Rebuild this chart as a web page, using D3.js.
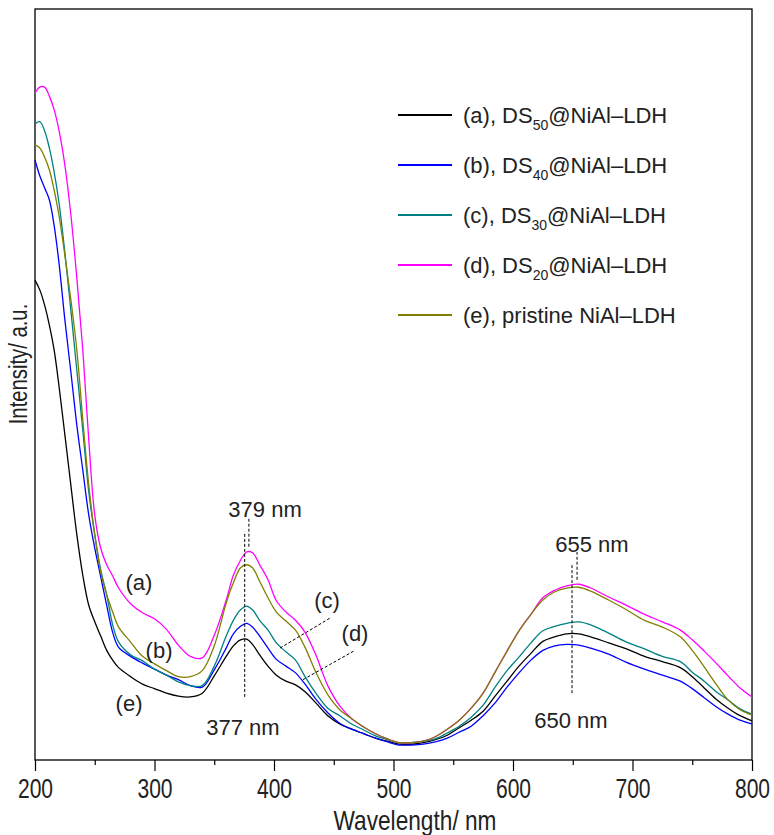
<!DOCTYPE html>
<html>
<head>
<meta charset="utf-8">
<script src="https://cdn.jsdelivr.net/npm/d3@7/dist/d3.min.js"></script>
<style>
  body { margin: 0; background: #fff; }
</style>
</head>
<body>
<svg id="chart" width="774" height="835"></svg>
<script>
// wavelength grid (nm)
var wavelength = [200, 204, 208, 212, 216, 220, 225, 230, 235, 240, 245, 250, 255, 260, 265, 270,
  280, 290, 300, 310, 320, 330, 340, 350, 360,
  366, 372, 377, 382, 388, 395, 402, 410, 418, 426, 435, 445, 455, 465, 475, 485, 495, 505, 515,
  525, 535, 545, 555, 565, 575, 585, 595, 605, 615, 625, 635, 645, 655, 665,
  680, 695, 710, 725, 740, 750, 760, 770, 780, 790, 800];

// intensity (a.u.)
var dsA = [63.9, 62.6, 60.6, 57.9, 54.6, 49.9, 43.3, 36.6, 30.0, 24.6, 20.6, 18.4, 16.5, 14.6, 13.3, 12.3,
  11.1, 10.1, 9.5, 8.9, 8.5, 8.4, 8.9, 11.2, 13.8,
  15.2, 16.0, 16.1, 15.4, 14.0, 12.5, 11.3, 10.5, 10.0, 9.1, 7.6, 5.9, 4.8, 4.1, 3.5, 2.9, 2.5, 2.1, 2.1,
  2.3, 2.7, 3.3, 4.3, 5.3, 6.5, 8.5, 10.5, 12.5, 14.2, 15.8, 16.4, 16.8, 16.8, 16.4,
  15.6, 14.8, 13.8, 13.1, 12.3, 11.1, 9.6, 8.1, 6.9, 5.9, 5.2];
var dsB = [79.9, 77.8, 76.2, 74.6, 71.2, 66.3, 58.6, 51.7, 44.6, 38.6, 32.6, 28.2, 24.4, 20.6, 17.0, 15.0,
  13.8, 12.9, 12.1, 11.3, 10.7, 9.9, 9.7, 12.0, 14.9,
  16.8, 17.8, 18.2, 17.7, 16.5, 14.9, 13.4, 12.5, 11.6, 10.1, 8.1, 6.3, 4.9, 4.1, 3.5, 2.9, 2.4, 2.0, 2.0,
  2.1, 2.4, 2.9, 3.7, 4.5, 5.9, 7.6, 9.7, 11.6, 13.3, 14.6, 15.2, 15.4, 15.3, 14.9,
  14.1, 13.0, 12.1, 11.3, 10.5, 9.5, 8.3, 7.1, 6.1, 5.3, 4.8];
var dsC = [84.7, 85.0, 83.8, 81.5, 78.3, 74.3, 67.6, 59.9, 51.9, 43.9, 35.7, 30.0, 25.3, 22.0, 18.0, 15.7,
  14.0, 13.2, 12.1, 11.3, 10.4, 9.9, 9.9, 12.5, 16.5,
  18.6, 20.0, 20.5, 20.0, 18.6, 17.3, 15.6, 14.4, 13.3, 11.1, 8.9, 6.9, 5.9, 4.8, 4.0, 3.2, 2.7, 2.3, 2.3,
  2.5, 2.8, 3.6, 4.5, 5.7, 7.3, 9.7, 11.9, 13.7, 15.6, 17.2, 17.8, 18.2, 18.4, 18.0,
  16.9, 15.7, 14.8, 13.8, 13.1, 11.7, 10.5, 9.1, 8.0, 6.8, 6.1];
var dsD = [88.8, 89.6, 89.6, 88.4, 86.6, 83.9, 79.2, 72.6, 64.2, 54.6, 42.6, 32.6, 28.2, 26.0, 24.5, 22.9,
  20.8, 19.6, 18.8, 17.4, 15.3, 13.8, 13.6, 16.6, 21.3,
  24.6, 26.6, 27.7, 27.6, 26.0, 24.0, 21.2, 19.7, 18.6, 17.0, 14.0, 9.9, 7.2, 5.5, 4.4, 3.5, 2.8, 2.3, 2.3,
  2.5, 3.1, 4.1, 5.3, 6.9, 8.9, 11.7, 14.5, 17.2, 19.4, 21.6, 22.6, 23.2, 23.4, 22.9,
  21.7, 20.6, 19.4, 18.4, 17.3, 16.0, 14.5, 12.9, 11.2, 9.6, 8.4];
var dsE = [81.9, 81.5, 80.3, 78.6, 75.9, 72.6, 67.2, 61.3, 54.6, 45.3, 36.6, 30.0, 25.0, 22.0, 19.7, 17.7,
  15.7, 13.8, 12.8, 11.9, 11.1, 11.1, 11.9, 15.2, 20.9,
  23.6, 25.6, 26.0, 25.6, 23.8, 21.6, 19.7, 18.5, 17.3, 15.0, 11.7, 8.7, 6.7, 5.5, 4.4, 3.5, 2.8, 2.3, 2.3,
  2.5, 3.1, 4.1, 5.3, 6.9, 8.9, 11.7, 14.5, 17.2, 19.4, 21.3, 22.4, 22.9, 23.0, 22.5,
  21.3, 20.0, 18.6, 17.7, 16.4, 14.6, 12.4, 10.1, 8.0, 6.7, 6.0];

var seriesPrefix = ["(a), DS", "(b), DS", "(c), DS", "(d), DS", "(e), pristine NiAl\u2013LDH"];
var seriesSub = ["50", "40", "30", "20", ""];
var seriesColors = ["#000000", "#0000ff", "#008080", "#ff00ff", "#808000"];
var xTicks = [200, 300, 400, 500, 600, 700, 800];
var xMinorTicks = [250, 350, 450, 550, 650, 750];

// peak markers: [wavelength, from, to]
var peakLines = [[379, 28.4, 32.2], [375.5, 8.4, 30.4], [653.6, 24.0, 27.7], [649.4, 8.9, 26.0]];
var peakLabels = [[392.5, 32.4, "379 nm"], [374, 3.3, "377 nm"], [666, 27.7, "655 nm"], [648.5, 4.3, "650 nm"]];
// curve letters and leader lines
var curveLabels = [[287, 22.6, "(a)"], [303.8, 13.6, "(b)"], [278.7, 6.5, "(e)"], [444.4, 20.2, "(c)"], [467.8, 15.8, "(d)"]];
var leaders = [[405, 14.9, 446.9, 18.9], [424.3, 10.7, 467.8, 14.6]];

var data = [dsA, dsB, dsC, dsD, dsE];

var svg = d3.select("#chart");
var margin = {top: 9, right: 22, bottom: 75, left: 35};
var width = 774 - margin.left - margin.right,
    height = 835 - margin.top - margin.bottom;

var g = svg.append("g").attr("transform", "translate(" + margin.left + "," + margin.top + ")");

var x = d3.scaleLinear().domain([200, 800]).range([0, width]);
var y = d3.scaleLinear().domain([0, 100]).range([height, 0]);

var fontFam = '"Liberation Sans", Arial, sans-serif';
var squeeze = "scale(0.78,1)"; // axis text in the original is condensed

// minor ticks first
g.append("g")
    .attr("transform", "translate(0," + height + ")")
    .call(d3.axisBottom(x).tickValues(xMinorTicks).tickSize(5).tickFormat(""))
    .call(function(a) { a.select(".domain").remove(); })
    .selectAll("line").attr("stroke-width", 1.2);

var xAxis = g.append("g")
    .attr("transform", "translate(0," + height + ")")
    .call(d3.axisBottom(x).tickValues(xTicks).tickSize(11).tickPadding(8).tickFormat(d3.format("d")));
xAxis.select(".domain").remove();
xAxis.selectAll("line").attr("stroke-width", 1.2);
xAxis.selectAll("text")
    .attr("font-size", 27)
    .attr("fill", "#222")
    .attr("transform", squeeze)
    .style("font-family", fontFam);

// frame
g.append("rect")
    .attr("width", width).attr("height", height)
    .attr("fill", "none").attr("stroke", "#000").attr("stroke-width", 1.3);

var line = d3.line()
    .x(function(d, i) { return x(wavelength[i]); })
    .y(function(d) { return y(d); })
    .curve(d3.curveCatmullRom);

g.selectAll(".spec")
    .data(data)
    .enter().append("path")
    .attr("class", "spec")
    .attr("d", line)
    .attr("fill", "none")
    .attr("stroke", function(d, i) { return seriesColors[i]; })
    .attr("stroke-width", 1.3);

// dashed peak markers
g.selectAll(".peak")
    .data(peakLines)
    .enter().append("line")
    .attr("x1", function(d) { return x(d[0]); })
    .attr("x2", function(d) { return x(d[0]); })
    .attr("y1", function(d) { return y(d[1]); })
    .attr("y2", function(d) { return y(d[2]); })
    .attr("stroke", "#000").attr("stroke-width", 1)
    .attr("stroke-dasharray", "3,2");

g.selectAll(".leader")
    .data(leaders)
    .enter().append("line")
    .attr("x1", function(d) { return x(d[0]); })
    .attr("y1", function(d) { return y(d[1]); })
    .attr("x2", function(d) { return x(d[2]); })
    .attr("y2", function(d) { return y(d[3]); })
    .attr("stroke", "#000").attr("stroke-width", 1)
    .attr("stroke-dasharray", "3,2");

g.selectAll(".plabel")
    .data(peakLabels.concat(curveLabels))
    .enter().append("text")
    .attr("x", function(d) { return x(d[0]); })
    .attr("y", function(d) { return y(d[1]); })
    .attr("text-anchor", "middle")
    .attr("font-size", 22)
    .attr("fill", "#222")
    .style("font-family", fontFam)
    .text(function(d) { return d[2]; });

// legend
var legend = g.append("g").attr("transform", "translate(363,106)");
var rows = legend.selectAll(".row")
    .data(seriesPrefix)
    .enter().append("g")
    .attr("transform", function(d, i) { return "translate(0," + (i * 50) + ")"; });
rows.append("line")
    .attr("x1", 0).attr("x2", 54)
    .attr("stroke", function(d, i) { return seriesColors[i]; })
    .attr("stroke-width", 2);
var lt = rows.append("text")
    .attr("x", 65).attr("y", 8)
    .attr("font-size", 22)
    .attr("fill", "#222")
    .style("font-family", fontFam);
lt.append("tspan").text(function(d) { return d; });
lt.append("tspan")
    .attr("font-size", 14).attr("dy", 7)
    .text(function(d, i) { return seriesSub[i]; });
lt.append("tspan")
    .attr("dy", -7)
    .text(function(d, i) { return seriesSub[i] ? "@NiAl\u2013LDH" : ""; });

// axis titles
svg.append("text")
    .attr("transform", "translate(415,830) scale(0.84,1)")
    .attr("text-anchor", "middle")
    .attr("font-size", 27).attr("fill", "#222")
    .style("font-family", fontFam)
    .text("Wavelength/ nm");

svg.append("text")
    .attr("transform", "translate(27," + (margin.top + 355) + ") rotate(-90) " + squeeze)
    .attr("text-anchor", "middle")
    .attr("font-size", 26).attr("fill", "#222")
    .style("font-family", fontFam)
    .text("Intensity/ a.u.");
</script>
</body>
</html>
